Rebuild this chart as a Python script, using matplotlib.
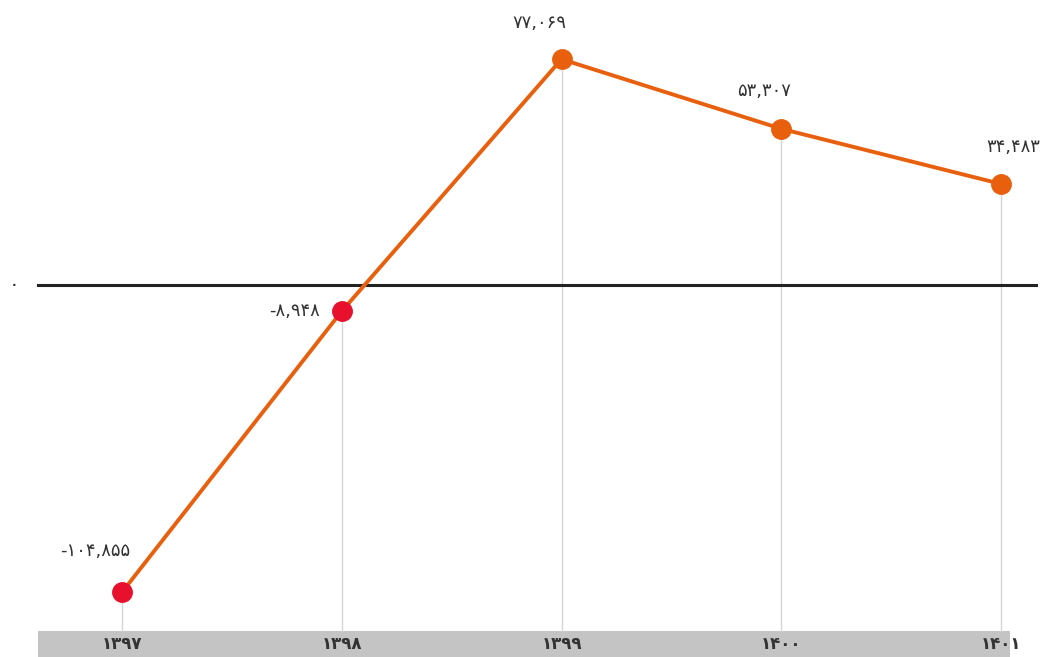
import matplotlib.pyplot as plt
from matplotlib.patches import Rectangle

years = ["۱۳۹۷", "۱۳۹۸", "۱۳۹۹", "۱۴۰۰", "۱۴۰۱"]
values = [-104855, -8948, 77069, 53307, 34483]
# label offsets in pixels (dx, dy) relative to the point
label_offsets = [(-27, 41), (-22, 0), (-22, 36), (-17, 38), (12, 37)]

ORANGE = "#E8600E"
RED = "#E8112D"
TEXT = "#333333"

PERSIAN = str.maketrans("0123456789", "۰۱۲۳۴۵۶۷۸۹")


def fa(n):
    return f"{n:,}".translate(PERSIAN)


plt.rcParams["font.family"] = ["DejaVu Sans"]

fig = plt.figure(figsize=(10.56, 6.57), dpi=100)
ax = fig.add_axes([0, 0, 1, 1])
# point spacing ~220 px, first point at ~122 px
ax.set_xlim(-0.555, 4.25)
y_scale = 0.00293
y_zero = 285
ax.set_ylim(-(657 - y_zero) / y_scale, y_zero / y_scale)
ax.axis("off")

xs = list(range(len(values)))

# bottom category band
band_top = ax.transData.inverted().transform((0, 657 - 631))[1]
ax.add_patch(Rectangle((0.036, 0), 0.92, 26 / 657, transform=ax.transAxes,
                       color="#c4c4c4", zorder=1, lw=0))
for x, yr in zip(xs, years):
    ax.text(x, 13 / 657, yr, transform=ax.get_xaxis_transform(),
            ha="center", va="center", fontsize=12, fontweight="bold",
            color=TEXT, zorder=2)

# drop lines
for x, v in zip(xs, values):
    ax.plot([x, x], [band_top, v], color="#d6d6d6", lw=1, zorder=1)

# zero line
ax.plot([-0.382, 4.16], [0, 0], color="#222222", lw=2.2, zorder=2)
ax.text(-0.491, 0, "۰", ha="center", va="center", fontsize=14,
        color=TEXT)

ax.plot(xs, values, color=ORANGE, lw=2.8, zorder=3)
for x, v, (dx, dy) in zip(xs, values, label_offsets):
    c = RED if v < 0 else ORANGE
    ax.plot(x, v, "o", ms=14, color=c, mec=c, zorder=4)
    ha = "right" if dy == 0 else "center"
    ax.annotate(fa(v), (x, v), xytext=(dx * 0.72, dy * 0.72),
                textcoords="offset points", ha=ha, va="center",
                fontsize=13, color=TEXT, zorder=5)

fig.savefig("out.png", dpi=100)
